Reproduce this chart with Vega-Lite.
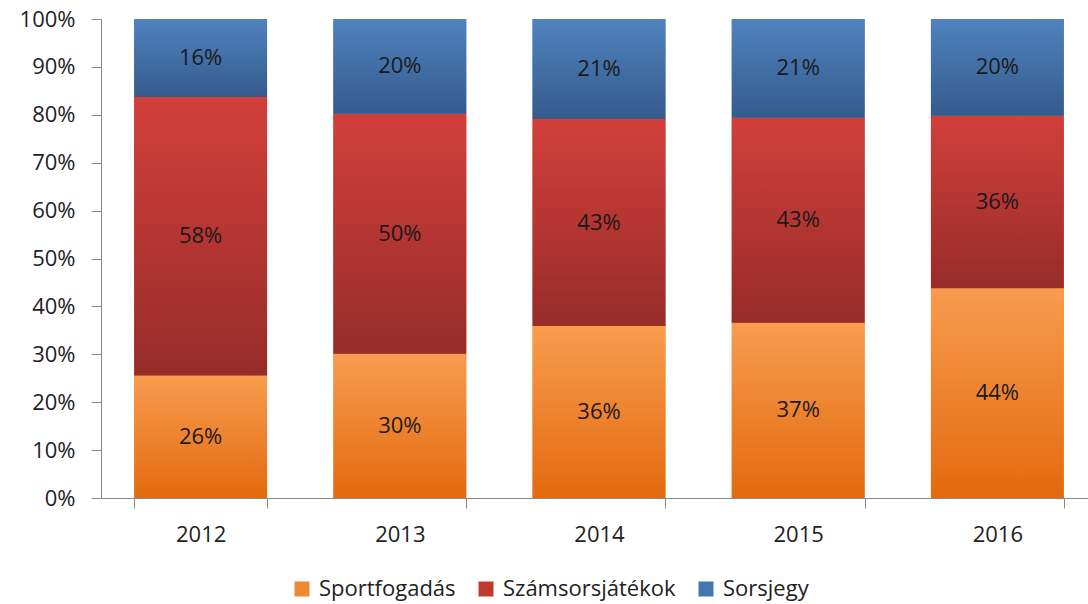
{
  "$schema": "https://vega.github.io/schema/vega-lite/v6.json",
  "width": 987,
  "height": 479,
  "autosize": {"type": "none"},
  "padding": {"left": 101, "top": 19, "right": 0, "bottom": 106},
  "background": "white",
  "config": {
    "view": {"stroke": null},
    "font": "Open Sans",
    "axis": {"labelFont": "Open Sans", "labelFontSize": 22, "labelColor": "#222222", "domainColor": "#888888", "tickColor": "#888888", "grid": false, "title": null}
  },
  "data": {
    "values": [
      {"year": "2012", "series": "Sportfogadás", "order": 1, "share": 0.256},
      {"year": "2012", "series": "Számsorsjátékok", "order": 2, "share": 0.581},
      {"year": "2012", "series": "Sorsjegy", "order": 3, "share": 0.163},
      {"year": "2013", "series": "Sportfogadás", "order": 1, "share": 0.301},
      {"year": "2013", "series": "Számsorsjátékok", "order": 2, "share": 0.501},
      {"year": "2013", "series": "Sorsjegy", "order": 3, "share": 0.198},
      {"year": "2014", "series": "Sportfogadás", "order": 1, "share": 0.359},
      {"year": "2014", "series": "Számsorsjátékok", "order": 2, "share": 0.432},
      {"year": "2014", "series": "Sorsjegy", "order": 3, "share": 0.209},
      {"year": "2015", "series": "Sportfogadás", "order": 1, "share": 0.366},
      {"year": "2015", "series": "Számsorsjátékok", "order": 2, "share": 0.428},
      {"year": "2015", "series": "Sorsjegy", "order": 3, "share": 0.206},
      {"year": "2016", "series": "Sportfogadás", "order": 1, "share": 0.438},
      {"year": "2016", "series": "Számsorsjátékok", "order": 2, "share": 0.36},
      {"year": "2016", "series": "Sorsjegy", "order": 3, "share": 0.202}
    ]
  },
  "transform": [
    {"stack": "share", "groupby": ["year"], "sort": [{"field": "order", "order": "ascending"}], "as": ["y0", "y1"]},
    {"calculate": "(datum.y0 + datum.y1) / 2", "as": "ymid"}
  ],
  "encoding": {
    "x": {
      "field": "year", "type": "nominal",
      "scale": {"paddingInner": 0.333, "paddingOuter": 0.1667, "range": [0, 996]},
      "axis": {"labelAngle": 0, "tickBand": "extent", "tickSize": 10, "labelPadding": 16, "domainWidth": 1}
    }
  },
  "layer": [
    {
      "mark": {"type": "bar"},
      "encoding": {
        "y": {
          "field": "y0", "type": "quantitative",
          "scale": {"domain": [0, 1], "nice": false, "zero": true},
          "axis": {"format": ".0%", "values": [0, 0.1, 0.2, 0.3, 0.4, 0.5, 0.6, 0.7, 0.8, 0.9, 1], "tickSize": 10, "labelPadding": 16}
        },
        "y2": {"field": "y1"},
        "color": {
          "field": "series", "type": "nominal",
          "scale": {"domain": ["Sportfogadás", "Számsorsjátékok", "Sorsjegy"], "range": ["#ef8a34", "#c0392f", "#4676ae"]},
          "legend": {
            "title": null, "orient": "none", "direction": "horizontal", "columns": 3,
            "legendX": 190, "legendY": 559, "padding": 0,
            "symbolType": "square", "symbolSize": 225, "symbolStrokeWidth": 0,
            "labelFont": "Open Sans", "labelFontSize": 22, "labelColor": "#222222",
            "labelOffset": 6, "columnPadding": 19, "labelLimit": 400
          }
        }
      }
    },
    {
      "transform": [{"filter": "datum.series === 'Sportfogadás'"}],
      "mark": {"type": "bar", "color": {"gradient": "linear", "x1": 0, "y1": 0, "x2": 0, "y2": 1, "stops": [{"offset": 0, "color": "#f89c4e"}, {"offset": 1, "color": "#e36a0f"}]}},
      "encoding": {"y": {"field": "y0", "type": "quantitative"}, "y2": {"field": "y1"}}
    },
    {
      "transform": [{"filter": "datum.series === 'Számsorsjátékok'"}],
      "mark": {"type": "bar", "color": {"gradient": "linear", "x1": 0, "y1": 0, "x2": 0, "y2": 1, "stops": [{"offset": 0, "color": "#d23f3b"}, {"offset": 1, "color": "#972c29"}]}},
      "encoding": {"y": {"field": "y0", "type": "quantitative"}, "y2": {"field": "y1"}}
    },
    {
      "transform": [{"filter": "datum.series === 'Sorsjegy'"}],
      "mark": {"type": "bar", "color": {"gradient": "linear", "x1": 0, "y1": 0, "x2": 0, "y2": 1, "stops": [{"offset": 0, "color": "#4f82bf"}, {"offset": 1, "color": "#355b8c"}]}},
      "encoding": {"y": {"field": "y0", "type": "quantitative"}, "y2": {"field": "y1"}}
    },
    {
      "mark": {"type": "text", "font": "Open Sans", "fontSize": 22, "color": "#1a1a1a", "baseline": "middle", "align": "center"},
      "encoding": {
        "y": {"field": "ymid", "type": "quantitative"},
        "text": {"field": "share", "type": "quantitative", "format": ".0%"}
      }
    }
  ]
}
